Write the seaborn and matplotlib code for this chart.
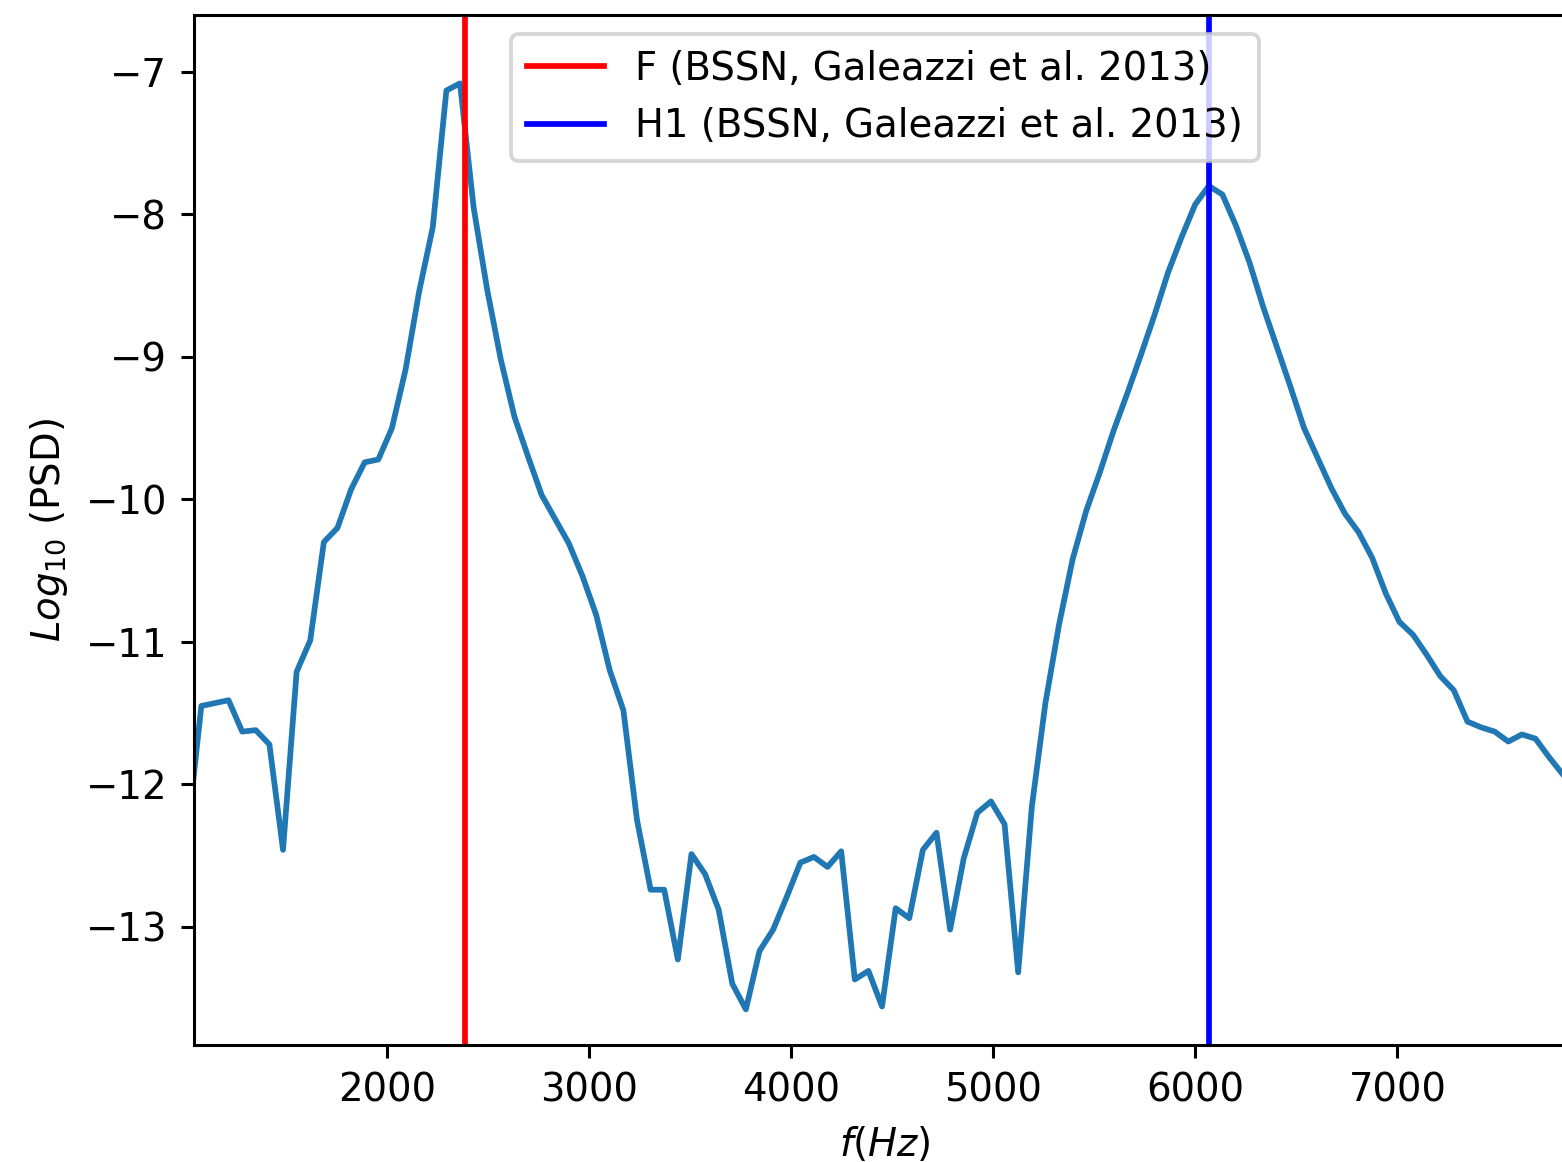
import numpy as np
import pandas as pd
import matplotlib
matplotlib.use("Agg")
import matplotlib.pyplot as plt
import seaborn as sns

# Frequency grid (Hz)
freq = [1011.0, 1078.4, 1145.8, 1213.2, 1280.6, 1348.0, 1415.4, 1482.8, 1550.2, 1617.6,
        1685.0, 1752.4, 1819.8, 1887.2, 1954.6, 2022.0, 2089.4, 2156.8, 2224.2, 2291.6,
        2359.0, 2426.4, 2493.8, 2561.2, 2628.6, 2696.0, 2763.4, 2830.8, 2898.2, 2965.6,
        3033.0, 3100.4, 3167.8, 3235.2, 3302.6, 3370.0, 3437.4, 3504.8, 3572.2, 3639.6,
        3707.0, 3774.4, 3841.8, 3909.2, 3976.6, 4044.0, 4111.4, 4178.8, 4246.2, 4313.6,
        4381.0, 4448.4, 4515.8, 4583.2, 4650.6, 4718.0, 4785.4, 4852.8, 4920.2, 4987.6,
        5055.0, 5122.4, 5189.8, 5257.2, 5324.6, 5392.0, 5459.4, 5526.8, 5594.2, 5661.6,
        5729.0, 5796.4, 5863.8, 5931.2, 5998.6, 6066.0, 6133.4, 6200.8, 6268.2, 6335.6,
        6403.0, 6470.4, 6537.8, 6605.2, 6672.6, 6740.0, 6807.4, 6874.8, 6942.2, 7009.6,
        7077.0, 7144.4, 7211.8, 7279.2, 7346.6, 7414.0, 7481.4, 7548.8, 7616.2, 7683.6,
        7751.0, 7818.4]

# log10 of PSD
log_psd = [-12.33,
           -11.45, -11.43, -11.41, -11.63, -11.62, -11.72, -12.46, -11.21, -10.99, -10.30,
           -10.20, -9.93, -9.74, -9.72, -9.50, -9.09, -8.54, -8.09, -7.13, -7.08,
           -7.95, -8.53, -9.02, -9.42, -9.70, -9.97, -10.14, -10.31, -10.54, -10.81,
           -11.20, -11.48, -12.25, -12.74, -12.74, -13.23, -12.49, -12.63, -12.88, -13.40,
           -13.58, -13.17, -13.02, -12.79, -12.55, -12.51, -12.58, -12.47, -13.37, -13.31,
           -13.56, -12.87, -12.94, -12.46, -12.34, -13.02, -12.52, -12.20, -12.12, -12.28,
           -13.32, -12.16, -11.43, -10.88, -10.42, -10.08, -9.81, -9.52, -9.26, -8.99,
           -8.71, -8.41, -8.16, -7.93, -7.80, -7.86, -8.08, -8.34, -8.65, -8.93,
           -9.21, -9.50, -9.71, -9.92, -10.10, -10.23, -10.41, -10.66, -10.86, -10.95,
           -11.09, -11.24, -11.34, -11.56, -11.60, -11.63, -11.70, -11.65, -11.68, -11.81,
           -11.93]

# Reference frequencies (Hz)
ref_labels = ["F (BSSN, Galeazzi et al. 2013)", "H1 (BSSN, Galeazzi et al. 2013)"]
ref_freqs = [2384, 6067]
ref_colors = ["red", "blue"]

df = pd.DataFrame({"f": freq, "psd": log_psd})

plt.rcParams["font.size"] = 10.12

DPI = 275
W, H = 1562, 1162
fig = plt.figure(figsize=(W / DPI, H / DPI), dpi=DPI)
left_px, right_px, top_px, bottom_px = 194, 1576, 15, 1045
ax = fig.add_axes([left_px / W, (H - bottom_px) / H,
                   (right_px - left_px) / W, (bottom_px - top_px) / H])

sns.lineplot(data=df, x="f", y="psd", ax=ax, color="#1f77b4", linewidth=1.5,
             estimator=None, sort=False)

for lab, fr, col in zip(ref_labels, ref_freqs, ref_colors):
    ax.axvline(fr, color=col, linewidth=1.5, label=lab)

ax.set_xlim(1042.1, 7884.0)
ax.set_ylim(-13.83, -6.60)
ax.set_xticks([2000, 3000, 4000, 5000, 6000, 7000])
ax.set_yticks([-13, -12, -11, -10, -9, -8, -7])
ax.set_xlabel(r"$f(Hz)$")
ax.set_ylabel(r"$Log_{10}$ (PSD)")
ax.legend(loc="upper center")

fig.savefig("out.png", dpi=DPI)
